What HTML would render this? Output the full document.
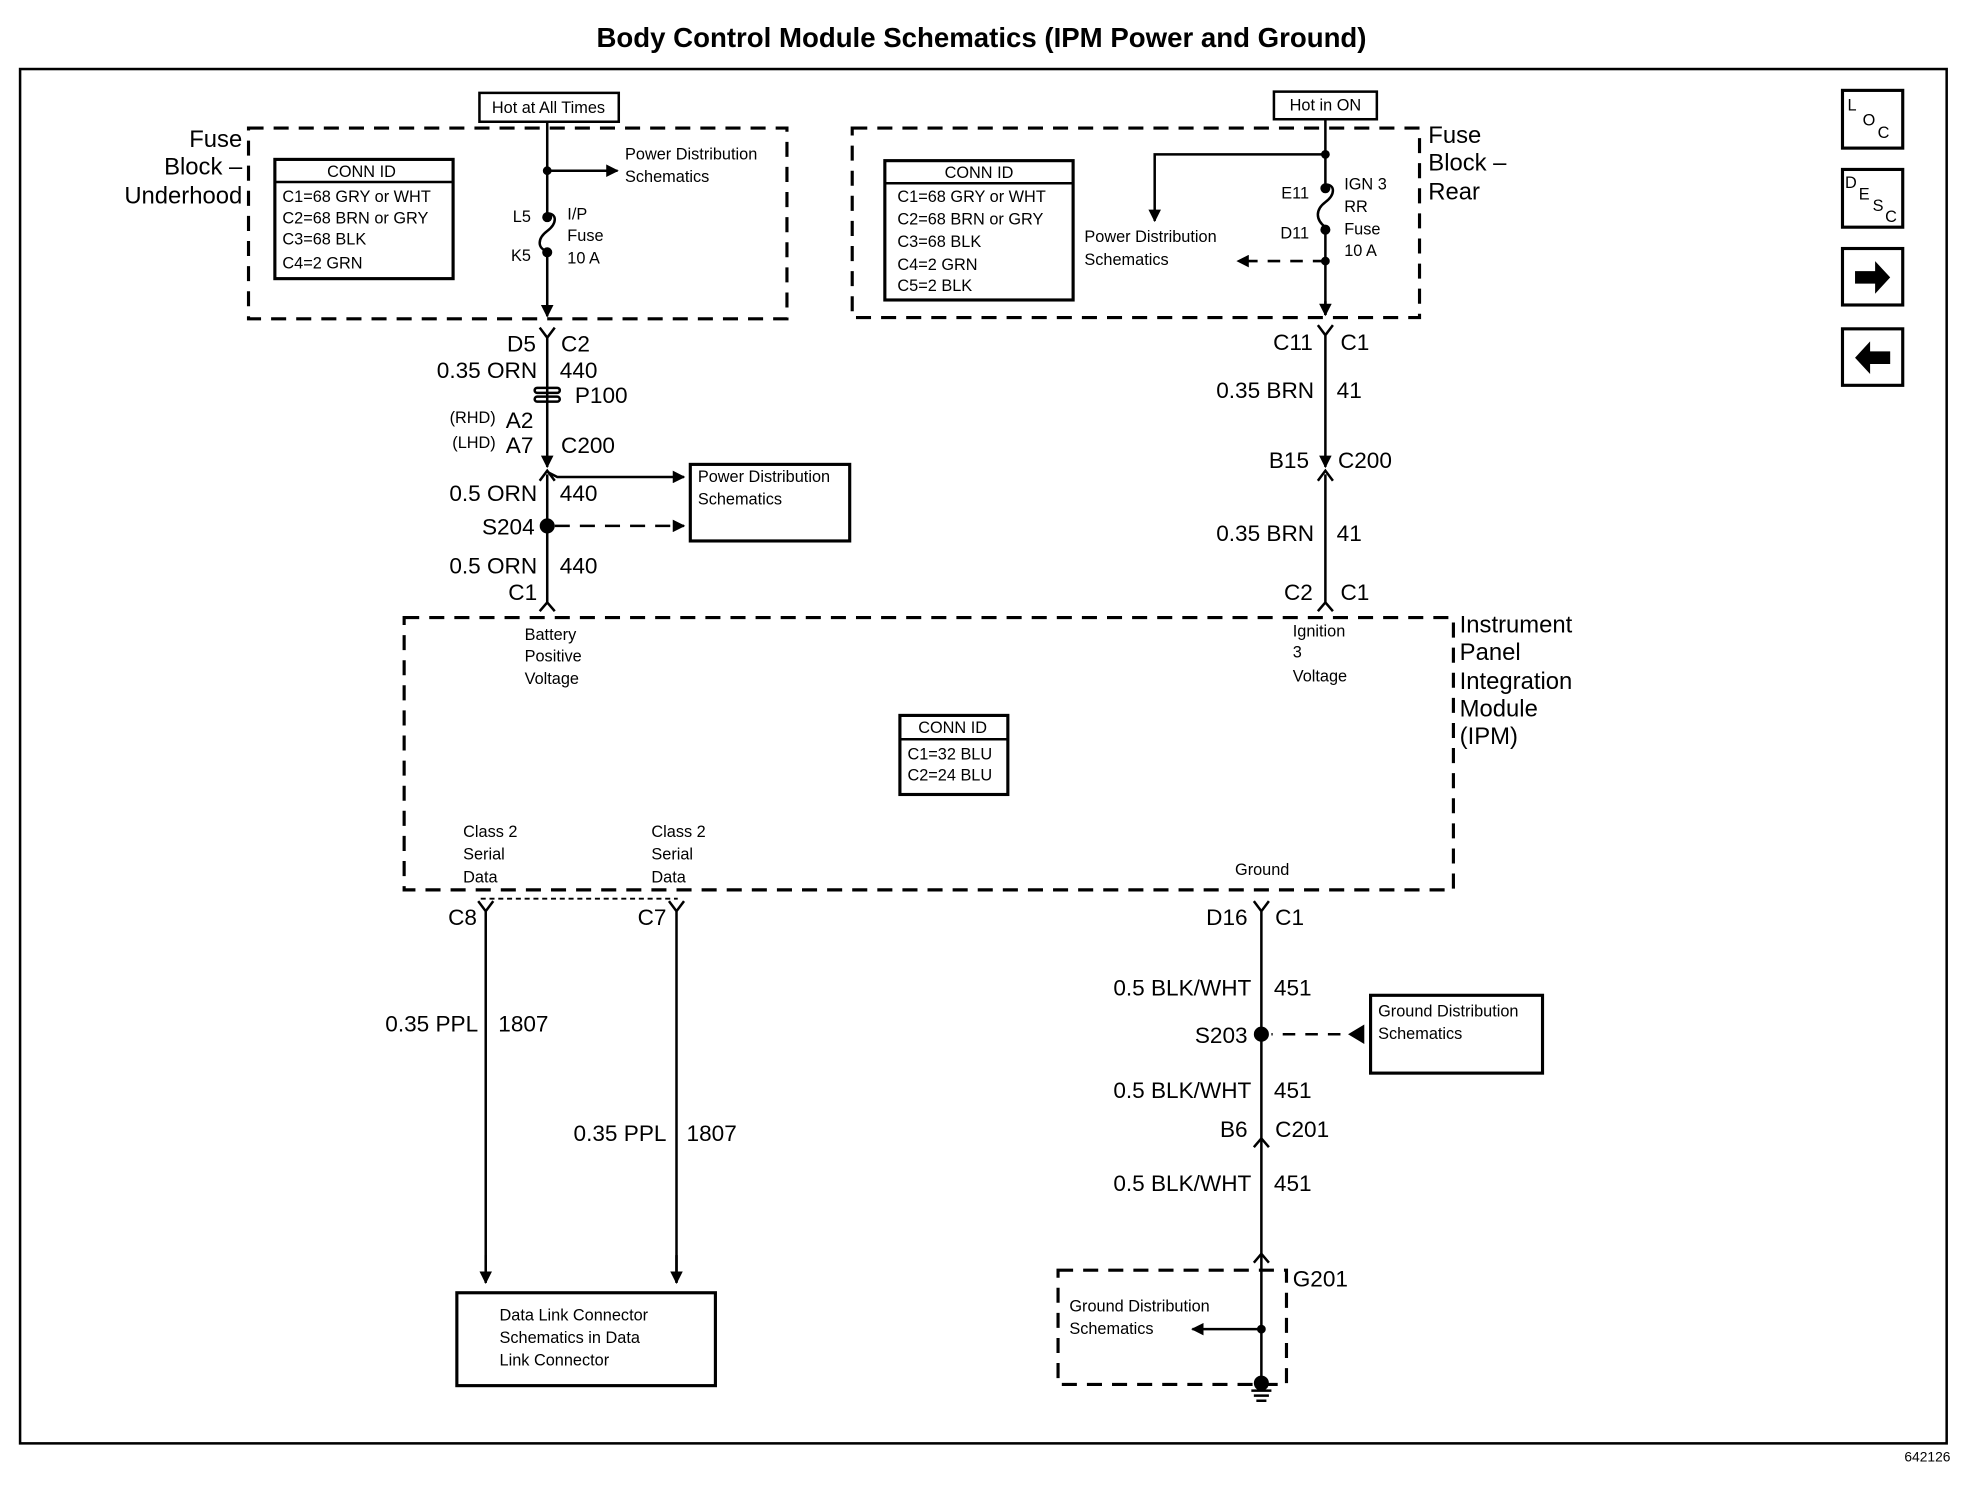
<!DOCTYPE html>
<html><head><meta charset="utf-8"><style>
html,body{margin:0;padding:0;background:#fff}
svg{display:block}
text{font-family:"Liberation Sans",sans-serif;fill:#000;dominant-baseline:central}
.b{font-size:18px}
.s{font-size:13px}
.l{font-size:19px}
.e{text-anchor:end}
.m{text-anchor:middle}
</style></head><body>
<svg width="1968" height="1504" viewBox="0 0 1568 1198.3" xmlns="http://www.w3.org/2000/svg">
<defs>
<marker id="a" viewBox="0 0 10 10" refX="9" refY="5" markerWidth="5" markerHeight="5" orient="auto-start-reverse"><path d="M0,0L10,5L0,10z" fill="#000"/></marker>
</defs>
<g stroke="#000" fill="none" stroke-width="2">
<text x="782" y="30" class="m" style="font-size:22px;font-weight:bold" stroke="none">Body Control Module Schematics (IPM Power and Ground)</text>
<rect x="16" y="55" width="1535" height="1095"/>
<!-- icons -->
<rect x="1468" y="72" width="48" height="46" stroke-width="2.5"/>
<rect x="1468" y="135" width="48" height="46" stroke-width="2.5"/>
<rect x="1468" y="198" width="48" height="45" stroke-width="2.5"/>
<rect x="1468" y="262" width="48" height="45" stroke-width="2.5"/>
<path d="M1478,216h16v-8l12,13l-12,13v-8h-16z" fill="#000" stroke="none"/>
<path d="M1506,280h-16v-8l-12,13l12,13v-8h16z" fill="#000" stroke="none"/>
<g stroke="none" style="font-size:13px">
<text x="1472" y="84">L</text><text x="1484" y="96">O</text><text x="1496" y="106">C</text>
<text x="1470" y="146">D</text><text x="1481" y="155">E</text><text x="1492" y="164">S</text><text x="1502" y="173">C</text>
</g>
<!-- left fuse block -->
<rect x="198" y="102" width="429" height="152" stroke-dasharray="12,8" stroke-width="2.5"/>
<text x="193" y="111" class="l e" stroke="none">Fuse</text>
<text x="193" y="133" class="l e" stroke="none">Block –</text>
<text x="193" y="156" class="l e" stroke="none">Underhood</text>
<rect x="219" y="127" width="142" height="95" stroke-width="2.5"/>
<line x1="219" y1="145" x2="361" y2="145"/>
<g stroke="none" class="s">
<text x="288" y="137" class="m s">CONN ID</text>
<text x="225" y="157" class="s">C1=68 GRY or WHT</text>
<text x="225" y="174" class="s">C2=68 BRN or GRY</text>
<text x="225" y="191" class="s">C3=68 BLK</text>
<text x="225" y="210" class="s">C4=2 GRN</text>
</g>
<rect x="382" y="74" width="111" height="23"/>
<text x="437" y="86" class="m s" stroke="none">Hot at All Times</text>
<path d="M436,97V170 M436,204V252" marker-end="url(#a)"/>
<path d="M436,170c8,0,8,8,0,14c-8,6,-8,14,0,16"/>
<circle cx="436" cy="136" r="2.5" fill="#000"/>
<circle cx="436" cy="173" r="3" fill="#000"/>
<circle cx="436" cy="201" r="3" fill="#000"/>
<line x1="436" y1="136" x2="492" y2="136" marker-end="url(#a)"/>
<g stroke="none">
<text x="498" y="123" class="s">Power Distribution</text>
<text x="498" y="141" class="s">Schematics</text>
<text x="423" y="173" class="s e">L5</text>
<text x="423" y="204" class="s e">K5</text>
<text x="452" y="171" class="s">I/P</text>
<text x="452" y="188" class="s">Fuse</text>
<text x="452" y="206" class="s">10 A</text>
</g>
<path d="M430,261l6,8l6,-8 M436,269V365" />
<path d="M436,365V372" marker-end="url(#a)"/>
<rect x="426" y="309" width="20" height="4" rx="2"/>
<rect x="426" y="316" width="20" height="4" rx="2"/>
<path d="M430,383l6,-8l6,8 M436,378V480 M430,487l6,-7l6,7"/>
<path d="M436,376L444,380H545" marker-end="url(#a)"/>
<circle cx="436" cy="419" r="5" fill="#000"/>
<line x1="442" y1="419" x2="545" y2="419" stroke-dasharray="12,8" marker-end="url(#a)"/>
<rect x="550" y="370" width="127" height="61" stroke-width="2.5"/>
<g stroke="none">
<text x="556" y="380" class="s">Power Distribution</text>
<text x="556" y="398" class="s">Schematics</text>
<text x="427" y="274" class="b e">D5</text><text x="447" y="274" class="b">C2</text>
<text x="428" y="295" class="b e">0.35 ORN</text><text x="446" y="295" class="b">440</text>
<text x="458" y="315" class="b">P100</text>
<text x="395" y="333" class="s e">(RHD)</text><text x="425" y="335" class="b e">A2</text>
<text x="395" y="353" class="s e">(LHD)</text><text x="425" y="355" class="b e">A7</text>
<text x="447" y="355" class="b">C200</text>
<text x="428" y="393" class="b e">0.5 ORN</text><text x="446" y="393" class="b">440</text>
<text x="426" y="420" class="b e">S204</text>
<text x="428" y="451" class="b e">0.5 ORN</text><text x="446" y="451" class="b">440</text>
<text x="428" y="472" class="b e">C1</text>
</g>
<!-- right fuse block -->
<rect x="679" y="102" width="452" height="151" stroke-dasharray="12,8" stroke-width="2.5"/>
<rect x="1015" y="73" width="82" height="22"/>
<text x="1056" y="84" class="m s" stroke="none">Hot in ON</text>
<path d="M1056,95V147 M1056,185V251" />
<path d="M1056,240V251" marker-end="url(#a)"/>
<path d="M1056,147c8,0,8,8,0,14c-8,6,-8,14,0,20"/>
<circle cx="1056" cy="123" r="2.5" fill="#000"/>
<circle cx="1056" cy="150" r="3" fill="#000"/>
<circle cx="1056" cy="183" r="3" fill="#000"/>
<circle cx="1056" cy="208" r="2.5" fill="#000"/>
<path d="M1056,123H920V176" marker-end="url(#a)"/>
<line x1="1056" y1="208" x2="986" y2="208" stroke-dasharray="10,8" marker-end="url(#a)"/>
<rect x="705" y="128" width="150" height="111" stroke-width="2.5"/>
<line x1="705" y1="146" x2="855" y2="146"/>
<g stroke="none">
<text x="780" y="138" class="m s">CONN ID</text>
<text x="715" y="157" class="s">C1=68 GRY or WHT</text>
<text x="715" y="175" class="s">C2=68 BRN or GRY</text>
<text x="715" y="193" class="s">C3=68 BLK</text>
<text x="715" y="211" class="s">C4=2 GRN</text>
<text x="715" y="228" class="s">C5=2 BLK</text>
<text x="864" y="189" class="s">Power Distribution</text>
<text x="864" y="207" class="s">Schematics</text>
<text x="1043" y="154" class="s e">E11</text>
<text x="1043" y="186" class="s e">D11</text>
<text x="1071" y="147" class="s">IGN 3</text>
<text x="1071" y="165" class="s">RR</text>
<text x="1071" y="183" class="s">Fuse</text>
<text x="1071" y="200" class="s">10 A</text>
<text x="1138" y="108" class="l">Fuse</text>
<text x="1138" y="130" class="l">Block –</text>
<text x="1138" y="153" class="l">Rear</text>
<text x="1046" y="273" class="b e">C11</text><text x="1068" y="273" class="b">C1</text>
<text x="1047" y="311" class="b e">0.35 BRN</text><text x="1065" y="311" class="b">41</text>
<text x="1043" y="367" class="b e">B15</text><text x="1066" y="367" class="b">C200</text>
<text x="1047" y="425" class="b e">0.35 BRN</text><text x="1065" y="425" class="b">41</text>
<text x="1046" y="472" class="b e">C2</text><text x="1068" y="472" class="b">C1</text>
</g>
<path d="M1050,259l6,8l6,-8 M1056,267V365"/>
<path d="M1056,365V372" marker-end="url(#a)"/>
<path d="M1050,383l6,-8l6,8 M1056,378V480 M1050,487l6,-7l6,7"/>
<!-- IPM -->
<rect x="322" y="492" width="836" height="217" stroke-dasharray="12,8" stroke-width="2.5"/>
<line x1="383" y1="716" x2="540" y2="716" stroke-dasharray="4,3" stroke-width="1.5"/>
<rect x="717" y="570" width="86" height="63" stroke-width="2.5"/>
<line x1="717" y1="589" x2="803" y2="589"/>
<g stroke="none">
<text x="418" y="506" class="s">Battery</text>
<text x="418" y="523" class="s">Positive</text>
<text x="418" y="541" class="s">Voltage</text>
<text x="1030" y="503" class="s">Ignition</text>
<text x="1030" y="520" class="s">3</text>
<text x="1030" y="539" class="s">Voltage</text>
<text x="759" y="580" class="m s">CONN ID</text>
<text x="723" y="601" class="s">C1=32 BLU</text>
<text x="723" y="618" class="s">C2=24 BLU</text>
<text x="369" y="663" class="s">Class 2</text><text x="369" y="681" class="s">Serial</text><text x="369" y="699" class="s">Data</text>
<text x="519" y="663" class="s">Class 2</text><text x="519" y="681" class="s">Serial</text><text x="519" y="699" class="s">Data</text>
<text x="984" y="693" class="s">Ground</text>
<text x="1163" y="498" class="l">Instrument</text>
<text x="1163" y="520" class="l">Panel</text>
<text x="1163" y="543" class="l">Integration</text>
<text x="1163" y="565" class="l">Module</text>
<text x="1163" y="587" class="l">(IPM)</text>
</g>
<!-- bottom wires -->
<path d="M381,718l6,8l6,-8 M387,726V1022" />
<path d="M387,1000V1022" marker-end="url(#a)"/>
<path d="M533,718l6,8l6,-8 M539,726V1022" />
<path d="M539,1000V1022" marker-end="url(#a)"/>
<rect x="364" y="1030" width="206" height="74" stroke-width="2.5"/>
<g stroke="none">
<text x="380" y="731" class="b e">C8</text>
<text x="531" y="731" class="b e">C7</text>
<text x="381" y="816" class="b e">0.35 PPL</text><text x="397" y="816" class="b">1807</text>
<text x="531" y="903" class="b e">0.35 PPL</text><text x="547" y="903" class="b">1807</text>
<text x="398" y="1048" class="s">Data Link Connector</text>
<text x="398" y="1066" class="s">Schematics in Data</text>
<text x="398" y="1084" class="s">Link Connector</text>
</g>
<path d="M999,718l6,8l6,-8 M1005,726V1100"/>
<path d="M999,914l6,-7l6,7 M999,1006l6,-7l6,7"/>
<circle cx="1005" cy="824" r="5" fill="#000"/>
<line x1="1086" y1="824" x2="1013" y2="824" stroke-dasharray="10,8"/>
<path d="M1086,818v12l-10,-6z" fill="#000"/>
<rect x="1092" y="793" width="137" height="62" stroke-width="2.5"/>
<rect x="843" y="1012" width="182" height="91" stroke-dasharray="12,8" stroke-width="2.5"/>
<circle cx="1005" cy="1059" r="2.5" fill="#000"/>
<line x1="1005" y1="1059" x2="950" y2="1059" marker-end="url(#a)"/>
<circle cx="1005" cy="1102" r="5" fill="#000"/>
<path d="M997,1108h16 M999,1112h12 M1001,1116h8"/>
<g stroke="none">
<text x="994" y="731" class="b e">D16</text><text x="1016" y="731" class="b">C1</text>
<text x="997" y="787" class="b e">0.5 BLK/WHT</text><text x="1015" y="787" class="b">451</text>
<text x="994" y="825" class="b e">S203</text>
<text x="1098" y="806" class="s">Ground Distribution</text>
<text x="1098" y="824" class="s">Schematics</text>
<text x="997" y="869" class="b e">0.5 BLK/WHT</text><text x="1015" y="869" class="b">451</text>
<text x="994" y="900" class="b e">B6</text><text x="1016" y="900" class="b">C201</text>
<text x="997" y="943" class="b e">0.5 BLK/WHT</text><text x="1015" y="943" class="b">451</text>
<text x="1030" y="1019" class="b">G201</text>
<text x="852" y="1041" class="s">Ground Distribution</text>
<text x="852" y="1059" class="s">Schematics</text>
<text x="1554" y="1161" class="e" style="font-size:11px">642126</text>
</g>
</g>
</svg>
</body></html>
